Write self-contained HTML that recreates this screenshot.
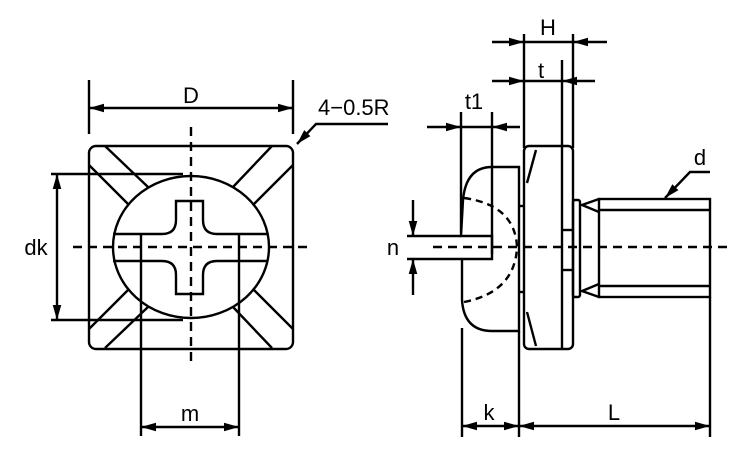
<!DOCTYPE html>
<html><head><meta charset="utf-8"><style>
html,body{margin:0;padding:0;background:#fff;}
svg{display:block;}
text{font-family:"Liberation Sans",sans-serif;font-size:22px;fill:#000;}
</style></head><body>
<svg width="750" height="450" viewBox="0 0 750 450" xmlns="http://www.w3.org/2000/svg">
<defs>
<marker id="a" viewBox="0 0 14 8" refX="14" refY="4" markerWidth="15" markerHeight="9" markerUnits="userSpaceOnUse" orient="auto-start-reverse"><path d="M0,0 L14,4 L0,8 z" fill="#000"/></marker>
</defs>
<g fill="none" stroke="#000" stroke-width="2.4">
<rect x="89" y="146" width="204" height="203" rx="7"/>
<line x1="105" y1="146" x2="148" y2="187"/><line x1="89" y1="165" x2="128" y2="204"/>
<line x1="272" y1="146" x2="233" y2="187"/><line x1="293" y1="165" x2="254" y2="204"/>
<line x1="89" y1="329" x2="128" y2="290"/><line x1="105" y1="348" x2="148" y2="307"/>
<line x1="293" y1="329" x2="254" y2="290"/><line x1="272" y1="348" x2="233" y2="307"/>
<ellipse cx="191" cy="247" rx="78" ry="71" fill="#fff"/>
<path d="M113,234 H162 Q176,234 176,220 V201 H203 V220 Q203,234 217,234 H268 M113,261 H162 Q176,261 176,275 V294 H203 V275 Q203,261 217,261 H268"/>
<line x1="141" y1="234" x2="141" y2="436"/><line x1="239" y1="234" x2="239" y2="436"/>
<line x1="51" y1="174" x2="183" y2="174"/><line x1="51" y1="320" x2="183" y2="320"/>
<line x1="89" y1="80" x2="89" y2="134"/><line x1="293" y1="80" x2="293" y2="134"/>
<line x1="89" y1="108" x2="293" y2="108" marker-start="url(#a)" marker-end="url(#a)"/>
<line x1="57" y1="174" x2="57" y2="320" marker-start="url(#a)" marker-end="url(#a)"/>
<line x1="141" y1="427" x2="239" y2="427" marker-start="url(#a)" marker-end="url(#a)"/>
<path d="M388,124 H316 L297,144" marker-end="url(#a)"/>
<g stroke-dasharray="9,6"><line x1="191" y1="127" x2="191" y2="366"/><line x1="73" y1="247" x2="310" y2="247"/></g>
<path d="M519,167 H492 Q466,167 463,200 L461,236 H492 V259 H462 L462,300 Q464,331 492,331 H519 Z" fill="#fff"/>
<path d="M464,198 Q515,205 517,247 Q515,292 464,302" stroke-dasharray="7,5"/>
<line x1="519" y1="206" x2="525" y2="206"/><line x1="519" y1="292" x2="525" y2="292"/>
<rect x="524" y="146" width="49" height="203" rx="5"/>
<line x1="562" y1="146" x2="562" y2="349"/>
<line x1="536" y1="150" x2="527" y2="183"/><line x1="527" y1="312" x2="536" y2="346"/>
<line x1="562" y1="230" x2="573" y2="230"/><line x1="562" y1="270" x2="573" y2="270"/>
<rect x="573" y="200" width="7" height="97" rx="2"/>
<rect x="599" y="199" width="111" height="98"/>
<line x1="599" y1="210" x2="710" y2="210"/><line x1="599" y1="286" x2="710" y2="286"/>
<path d="M599,199 L582,205 L599,212 M599,284 L582,291 L599,297"/>
<line x1="407" y1="236" x2="461" y2="236"/><line x1="407" y1="259" x2="461" y2="259"/>
<line x1="413" y1="200" x2="413" y2="236" marker-end="url(#a)"/>
<line x1="413" y1="295" x2="413" y2="259" marker-end="url(#a)"/>
<line x1="524" y1="34" x2="524" y2="148"/><line x1="573" y1="34" x2="573" y2="148"/><line x1="562" y1="60" x2="562" y2="147"/>
<line x1="492" y1="42" x2="524" y2="42" marker-end="url(#a)"/><line x1="607" y1="42" x2="573" y2="42" marker-end="url(#a)"/><line x1="524" y1="42" x2="573" y2="42"/>
<line x1="492" y1="81" x2="524" y2="81" marker-end="url(#a)"/><line x1="595" y1="81" x2="562" y2="81" marker-end="url(#a)"/><line x1="524" y1="81" x2="562" y2="81"/>
<line x1="461" y1="112" x2="461" y2="233"/><line x1="492" y1="112" x2="492" y2="254"/>
<line x1="427" y1="127" x2="461" y2="127" marker-end="url(#a)"/><line x1="520" y1="127" x2="492" y2="127" marker-end="url(#a)"/><line x1="461" y1="127" x2="492" y2="127"/>
<line x1="462" y1="328" x2="462" y2="437"/><line x1="519" y1="331" x2="519" y2="437"/><line x1="710" y1="297" x2="710" y2="437"/>
<line x1="462" y1="426" x2="519" y2="426" marker-start="url(#a)" marker-end="url(#a)"/>
<line x1="519" y1="426" x2="710" y2="426" marker-start="url(#a)" marker-end="url(#a)"/>
<path d="M710,172 H690 L665,198" marker-end="url(#a)"/>
<line x1="433" y1="247" x2="728" y2="247" stroke-dasharray="9,6"/>
</g>
<text x="191" y="103" text-anchor="middle">D</text>
<text x="318" y="115">4−0.5R</text>
<text x="36" y="255" text-anchor="middle">dk</text>
<text x="190" y="421" text-anchor="middle">m</text>
<text x="548" y="35" text-anchor="middle">H</text>
<text x="541" y="78" text-anchor="middle">t</text>
<text x="474" y="109" text-anchor="middle">t1</text>
<text x="393" y="255" text-anchor="middle">n</text>
<text x="700" y="165" text-anchor="middle">d</text>
<text x="489" y="420" text-anchor="middle">k</text>
<text x="614" y="420" text-anchor="middle">L</text>
</svg>
</body></html>
